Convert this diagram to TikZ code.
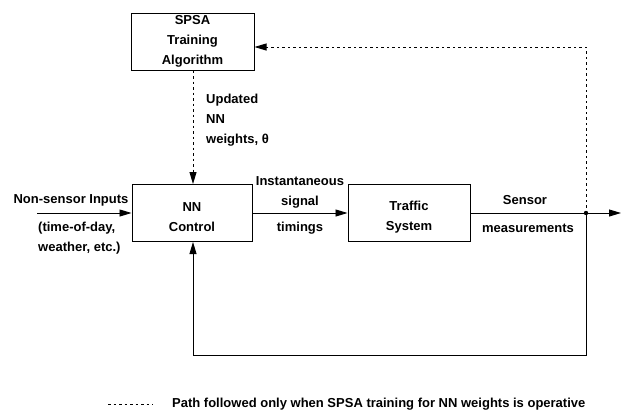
\documentclass[tikz,border=0pt]{standalone}
\usepackage{fontspec}
\setmainfont{Liberation Sans}
\usetikzlibrary{arrows.meta}
\begin{document}
\begin{tikzpicture}[x=1pt,y=-1pt,
  every node/.style={font=\bfseries\fontsize{13}{20}\selectfont},
  blk/.style={draw,line width=1pt,minimum width=#1,minimum height=57pt,inner sep=0pt,align=center},
  inlbl/.style={label={[align=center,yshift=-4pt]center:#1}},
  ln/.style={line width=0.9pt},
  dsh/.style={line width=0.9pt,dash pattern=on 2.5pt off 3pt},
  arr/.style={-{Triangle[length=12pt,width=7pt]}},
  lbl/.style={inner sep=0pt}]
\useasboundingbox (0,0) rectangle (622,416);
\node[blk=123pt] (spsa) at (192.5,41.5) {SPSA\\Training\\Algorithm};
\node[blk=120pt,inlbl={NN\\Control}] (nn) at (192,213) {};
\node[blk=122pt,inlbl={Traffic\\System}] (traffic) at (409,213) {};
\coordinate (in) at (37,213);
\coordinate (j) at (586,213);
\coordinate (out) at (621,213);
\coordinate (jtop) at (586,47);
\coordinate (jbot) at (586,355);
\coordinate (fb) at (193,355);
\draw[ln,arr] (in) -- (nn.west);
\draw[ln,arr] (nn.east) -- (traffic.west);
\draw[ln] (traffic.east) -- (j);
\draw[ln,arr] (j) -- (out);
\draw[ln,arr] (j) -- (jbot) -- (fb) -- (nn.south -| fb);
\draw[dsh,arr] (j) -- (jtop) -- (spsa.east |- jtop);
\draw[dsh,arr] (spsa.south -| fb) -- (nn.north -| fb);
\fill (j) circle (2.2pt);
\node[lbl] (nsi) at (71,200) {Non-sensor Inputs};
\node[lbl,align=left,anchor=west] (tod) at (38,238.5) {(time-of-day,\\weather, etc.)};
\node[lbl,align=center] (inst) at (300,192.5) {Instantaneous\\signal};
\node[lbl] (tim) at (300,228) {timings};
\node[lbl] (sen) at (525,200) {Sensor};
\node[lbl] (meas) at (528,228) {measurements};
\node[lbl,align=left,anchor=north west] (upd) at (206,94) {Updated\\NN\\weights, θ};
\coordinate (lg1) at (108,404);
\coordinate (lg2) at (153,404);
\draw[dsh] (lg1) -- (lg2);
\node[lbl,anchor=west] (leg) at (172,404) {Path followed only when SPSA training for NN weights is operative};
\end{tikzpicture}
\end{document}
